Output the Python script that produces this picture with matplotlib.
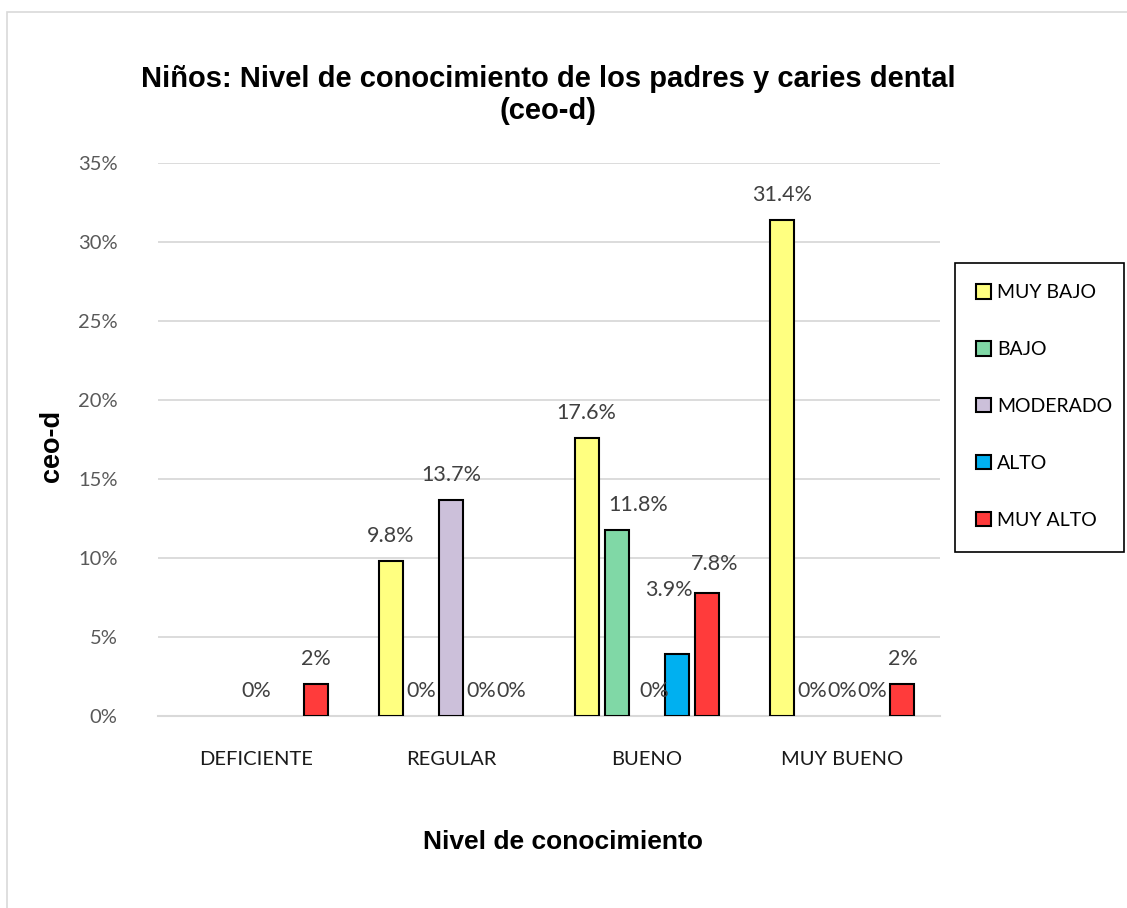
import numpy as np
import matplotlib
matplotlib.use('Agg')
import matplotlib.pyplot as plt
from matplotlib.patches import Rectangle

# Datos (porcentaje de niños por nivel ceo-d)
niveles = ["DEFICIENTE", "REGULAR", "BUENO", "MUY BUENO"]
series = ["MUY BAJO", "BAJO", "MODERADO", "ALTO", "MUY ALTO"]
muy_bajo = [np.nan, 9.8, 17.6, 31.4]
bajo = [np.nan, 0.0, 11.8, 0.0]
moderado = [0.0, 13.7, 0.0, 0.0]
alto = [np.nan, 0.0, 3.9, 0.0]
muy_alto = [2.0, 0.0, 7.8, 2.0]

colores = ["#FFFF80", "#80D8A6", "#CCC0DA", "#00B0F0", "#FF3B3B"]

# Desplazamiento manual de algunas etiquetas (px): (serie, grupo) -> (dx, dy)
ajustes = {(1, 2): (21, 0), (3, 2): (-8, 39), (4, 2): (8, 4), (2, 2): (7, 0)}

BODY_FONT = ["Lato", "DejaVu Sans"]
TITLE_FONT = ["Liberation Sans", "DejaVu Sans"]

W, H = 1127, 908
fig = plt.figure(figsize=(W / 100, H / 100), dpi=100)
ax = fig.add_axes([158 / W, 1 - 716 / H, (940 - 158) / W, (716 - 163) / H])

# Borde del área del gráfico
fig.patches.append(Rectangle((7 / W, -0.01), 1.05, 1 - 12 / H + 0.01,
                             transform=fig.transFigure, fill=False,
                             edgecolor="#D9D9D9", linewidth=1.2))

datos = [muy_bajo, bajo, moderado, alto, muy_alto]
x = np.arange(len(niveles))
paso = 30 / 195
ancho = 24 / 195
px2pt = 72 / fig.dpi

for i, (nombre, vals, color) in enumerate(zip(series, datos, colores)):
    pos = x + (i - 2) * paso
    bordes = [1.5 if (not np.isnan(v) and v > 0) else 0 for v in vals]
    ax.bar(pos, vals, width=ancho, color=color, edgecolor="black",
           linewidth=bordes, label=nombre, zorder=3)
    for j, v in enumerate(vals):
        if np.isnan(v):
            continue
        texto = f"{v:.0f}%" if float(v).is_integer() else f"{v:.1f}%"
        dx, dy = ajustes.get((i, j), (0, 0))
        ax.annotate(texto, (pos[j], v), xytext=(dx * px2pt, (25 + dy) * px2pt),
                    textcoords="offset points", ha="center", va="center",
                    fontsize=15.5, color="#404040", family=BODY_FONT, zorder=4)

ax.set_xlim(-0.5, len(niveles) - 0.5)
ax.set_ylim(0, 35)
ax.set_yticks(np.arange(0, 36, 5))
ax.set_yticklabels([f"{t}%" for t in range(0, 36, 5)], family=BODY_FONT,
                   fontsize=14.5, color="#595959")
ax.set_xticks(x)
ax.set_xticklabels(niveles, family=BODY_FONT, fontsize=14.5, color="#1A1A1A")
ax.tick_params(axis="both", length=0)
ax.tick_params(axis="x", pad=25)
ax.tick_params(axis="y", pad=29)

ax.grid(axis="y", color="#D9D9D9", linewidth=1.3, zorder=0)
for s in ["top", "right", "left"]:
    ax.spines[s].set_visible(False)
ax.spines["bottom"].set_color("#D9D9D9")
ax.spines["bottom"].set_linewidth(1.5)

fig.text(548 / W, 1 - 95 / H,
         "Niños: Nivel de conocimiento de los padres y caries dental\n(ceo-d)",
         ha="center", va="center", fontsize=21, fontweight="bold",
         family=TITLE_FONT, linespacing=1.2)
fig.text(52 / W, 1 - 446 / H, "ceo-d", rotation=90, ha="center", va="center",
         fontsize=19.5, fontweight="bold", family=TITLE_FONT)
fig.text(563 / W, 1 - 842 / H, "Nivel de conocimiento", ha="center", va="center",
         fontsize=19, fontweight="bold", family=TITLE_FONT)

# Leyenda sin marco propio; el recuadro se dibuja aparte
leg = fig.legend(loc="upper left", bbox_to_anchor=(955 / W, 1 - 263 / H),
                 bbox_transform=fig.transFigure, borderaxespad=0,
                 prop={"family": BODY_FONT, "size": 14}, frameon=False,
                 handlelength=0.75, handleheight=0.75, handletextpad=0.3,
                 labelspacing=2.05, borderpad=1.1)
for h in leg.legend_handles:
    h.set_linewidth(1.5)
fig.patches.append(Rectangle((955 / W, 1 - 552 / H), (1124 - 955) / W, (552 - 263) / H,
                             transform=fig.transFigure, fill=False,
                             edgecolor="black", linewidth=1.2, zorder=5))

fig.savefig("out.png", dpi=100, facecolor="white")
